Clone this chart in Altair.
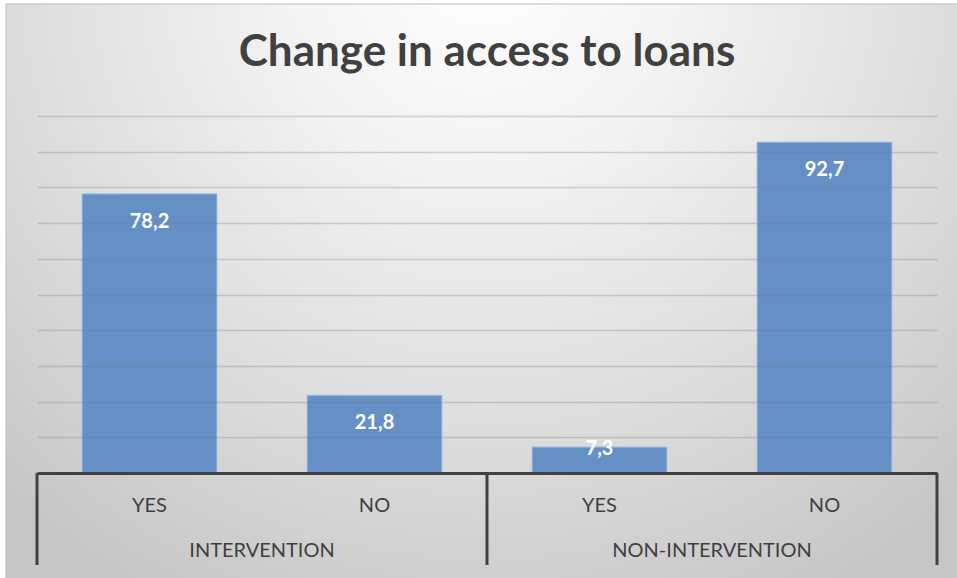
import altair as alt
import pandas as pd

groups = ["INTERVENTION", "INTERVENTION", "NON-INTERVENTION", "NON-INTERVENTION"]
answers = ["YES", "NO", "YES", "NO"]
values = [78.2, 21.8, 7.3, 92.7]
group_names = ["INTERVENTION", "NON-INTERVENTION"]
group_centers = [1, 3]
boundaries = [0, 2, 4]
y_ticks = list(range(10, 101, 10))

df = pd.DataFrame({"group": groups, "answer": answers, "value": values})
df["key"] = df["group"] + "|" + df["answer"]
order = list(df["key"])

W, H = 900, 357
FONT = "Lato"
DARK = "#404040"

yaxis = alt.Axis(
    title=None, labels=False, ticks=False, domain=False,
    values=y_ticks, gridColor="#7a7a7a", gridOpacity=0.3, gridWidth=1.5,
    zindex=1,
)
yscale = alt.Scale(domain=[0, 100], nice=False)
xscale = alt.Scale(paddingInner=0.4, paddingOuter=0.2)

bg = alt.Chart(pd.DataFrame({"a": [0]})).mark_rect(
    fill=alt.RadialGradient(
        gradient="radial",
        x1=0.5, y1=0.15, r1=0.0,
        x2=0.5, y2=0.15, r2=0.75,
        stops=[
            alt.GradientStop(offset=0.0, color="#ffffff"),
            alt.GradientStop(offset=0.3, color="#f2f2f2"),
            alt.GradientStop(offset=0.7, color="#dadada"),
            alt.GradientStop(offset=1.0, color="#c6c6c6"),
        ],
    ),
    stroke="#bdbdbd",
    strokeWidth=1,
).encode(
    x=alt.value(-31), x2=alt.value(925), y=alt.value(-112), y2=alt.value(470)
)

xaxis = alt.Axis(
    title=None,
    labelExpr="split(datum.label, '|')[1]",
    ticks=False,
    domainColor=DARK,
    domainWidth=3,
    labelFont=FONT,
    labelFontSize=20,
    labelColor=DARK,
    labelPadding=22,
    labelAngle=0,
    grid=False,
    zindex=1,
)

bars = alt.Chart(df).mark_bar(
    color="#6490c6", stroke="#a9c4e4", strokeWidth=1
).encode(
    x=alt.X("key:N", sort=order, scale=xscale, axis=xaxis),
    y=alt.Y("value:Q", scale=yscale, axis=yaxis),
)

labels = alt.Chart(df).transform_calculate(
    labpos="datum.value > 15 ? datum.value - 7.9 : datum.value - 0.6",
    lab="replace(format(datum.value, '.1f'), '.', ',')",
).mark_text(
    font=FONT, fontSize=20, fontWeight="bold", color="white", baseline="middle"
).encode(
    x=alt.X("key:N", sort=order, scale=xscale, axis=None),
    y=alt.Y("labpos:Q", scale=yscale, axis=yaxis),
    text="lab:N",
)

rules = alt.Chart(pd.DataFrame({"b": boundaries})).mark_rule(
    color=DARK, strokeWidth=3
).encode(
    x=alt.X("b:Q", scale=alt.Scale(domain=[0, 4], nice=False, zero=False), axis=None),
    y=alt.value(H),
    y2=alt.value(H + 92),
)

glabels = alt.Chart(pd.DataFrame({"g": group_names, "c": group_centers})).mark_text(
    font=FONT, fontSize=20, color=DARK, baseline="middle"
).encode(
    x=alt.X("c:Q", scale=alt.Scale(domain=[0, 4], nice=False, zero=False), axis=None),
    y=alt.value(H + 78),
    text="g:N",
)

chart = alt.layer(bg, bars, labels, rules, glabels).resolve_scale(
    x="independent"
).properties(
    width=W,
    height=H,
    autosize=alt.AutoSizeParams(type="none"),
    padding={"left": 37, "top": 116, "right": 20, "bottom": 105},
    background="white",
    title=alt.TitleParams(
        "Change in access to loans",
        font=FONT, fontSize=44, fontWeight="bold", color=DARK,
        anchor="middle", baseline="alphabetic", offset=-106,
    ),
).configure_view(stroke=None)

chart.save("out.html", embed_options={"renderer": "svg", "actions": False})
